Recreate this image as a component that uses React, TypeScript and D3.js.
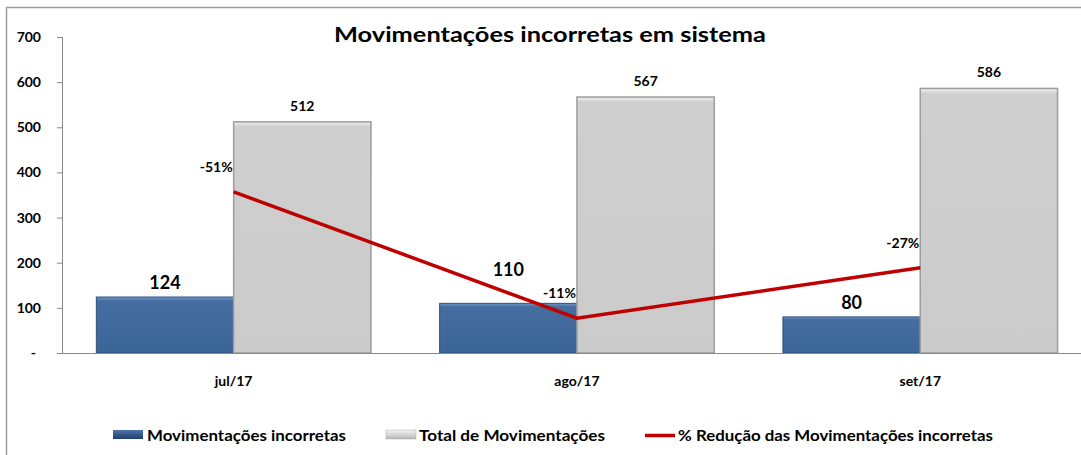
import React from 'react';
import * as d3 from 'd3';

// chart data
const categories = ['jul/17', 'ago/17', 'set/17'];
const incorretas = [124, 110, 80];
const totais = [512, 567, 586];
const reducao = [-0.51, -0.11, -0.27];
const yTicks = [0, 100, 200, 300, 400, 500, 600, 700];

const W = 1081;
const H = 455;
const margin = { top: 37, bottom: 353, left: 62 };
const font = 'Lato, "Open Sans", sans-serif';

export default function App() {
  const x = d3.scaleBand<string>()
    .domain(categories)
    .range([margin.left, margin.left + 3 * 343.3])
    .padding(0);
  const y = d3.scaleLinear().domain([0, 700]).range([margin.bottom, margin.top]);
  // secondary axis (hidden) for the % line, plotted by magnitude
  const y2 = d3.scaleLinear().domain([0, 1]).range([margin.bottom, margin.top]);

  const step = x.step();
  const barW = step * 0.4;
  const center = (c: string) => (x(c) as number) + step / 2;

  const pts = categories.map((c, i) => [center(c), y2(Math.abs(reducao[i]))] as [number, number]);
  const line = d3.line();

  // y of the % line at a given x (null outside its span)
  const lineYAt = (px: number) => {
    for (let i = 0; i < pts.length - 1; i++) {
      const [x0, y0] = pts[i];
      const [x1, y1] = pts[i + 1];
      if (px >= x0 && px <= x1) return y0 + ((px - x0) / (x1 - x0)) * (y1 - y0);
    }
    return null;
  };
  // bar label moved above the line when it would overlap it
  const blueLabelY = (cx: number, top: number) => {
    const base = top - 8;
    const ly = lineYAt(cx);
    if (ly !== null && ly > base - 18 && ly < base + 4) return ly - 17;
    return base;
  };

  return (
    <svg width={W} height={H} style={{ position: 'absolute', left: 0, top: 0, background: '#fff' }}>
      <defs>
        <linearGradient id="blueG" x1="0" y1="0" x2="0" y2="1">
          <stop offset="0" stopColor="#7099cc" />
          <stop offset="0.07" stopColor="#466d9f" />
          <stop offset="1" stopColor="#3c6597" />
        </linearGradient>
        <linearGradient id="grayG" x1="0" y1="0" x2="0" y2="1">
          <stop offset="0" stopColor="#f2f2f2" />
          <stop offset="0.02" stopColor="#cfcfcf" />
          <stop offset="1" stopColor="#cbcbcb" />
        </linearGradient>
        <linearGradient id="legBlue" x1="0" y1="0" x2="0" y2="1">
          <stop offset="0" stopColor="#4f74a8" />
          <stop offset="1" stopColor="#1f3f6e" />
        </linearGradient>
        <linearGradient id="legGray" x1="0" y1="0" x2="0" y2="1">
          <stop offset="0" stopColor="#f5f5f5" />
          <stop offset="1" stopColor="#b5b5b5" />
        </linearGradient>
      </defs>

      {/* outer border */}
      <line x1={6.5} y1={7} x2={6.5} y2={H} stroke="#9a9a9a" strokeWidth={1.5} />
      <line x1={6} y1={7.5} x2={W} y2={7.5} stroke="#9a9a9a" strokeWidth={1.5} />

      <text x={550} y={42} textAnchor="middle" fontFamily={font} fontWeight="bold" fontSize={21}
        textLength={432} lengthAdjust="spacingAndGlyphs" fill="#000">
        Movimentações incorretas em sistema
      </text>

      {/* y axis */}
      <g fontFamily={font} fontWeight="bold" fontSize={14}>
        <line x1={margin.left + 0.5} y1={y(700)} x2={margin.left + 0.5} y2={y(0)} stroke="#888" />
        {yTicks.map(t => (
          <g key={t}>
            <line x1={margin.left - 5} x2={margin.left} y1={y(t) + 0.5} y2={y(t) + 0.5} stroke="#888" />
            <text x={t === 0 ? 36 : 41} y={y(t) + 5} textAnchor="end" fill="#000">{t === 0 ? '-' : t}</text>
          </g>
        ))}
      </g>

      {/* bars */}
      {categories.map((c, i) => {
        const cx = center(c);
        const yb = y(incorretas[i]);
        const yg = y(totais[i]);
        return (
          <g key={c}>
            <rect x={cx - barW} y={yb} width={barW} height={y(0) - yb} fill="url(#blueG)" stroke="#2e5080" strokeWidth={1} />
            <rect x={cx} y={yg} width={barW} height={y(0) - yg} fill="url(#grayG)" stroke="#9d9d9d" strokeWidth={1.5} />
            <text x={cx - barW / 2} y={blueLabelY(cx - barW / 2, yb)} textAnchor="middle" fontFamily={font} fontWeight="bold" fontSize={18}>{incorretas[i]}</text>
            <text x={cx + barW / 2} y={yg - 11} textAnchor="middle" fontFamily={font} fontWeight="bold" fontSize={14}>{totais[i]}</text>
            <text x={cx} y={386} textAnchor="middle" fontFamily={font} fontWeight="bold" fontSize={14}>{c}</text>
          </g>
        );
      })}

      {/* x axis line */}
      <line x1={margin.left} x2={W} y1={y(0) + 0.5} y2={y(0) + 0.5} stroke="#888" />

      {/* % line */}
      <path d={line(pts) as string} fill="none" stroke="#c00000" strokeWidth={3.5} />
      {pts.map((p, i) => (
        <text key={i} x={p[0] - 1} y={p[1] - 20} textAnchor="end" fontFamily={font} fontWeight="bold" fontSize={14}>
          {Math.round(reducao[i] * 100) + '%'}
        </text>
      ))}

      {/* legend */}
      <g fontFamily={font} fontWeight="bold" fontSize={15}>
        <rect x={113} y={430} width={30} height={9} fill="url(#legBlue)" />
        <text x={147} y={441} textLength={199} lengthAdjust="spacingAndGlyphs">Movimentações incorretas</text>
        <rect x={386} y={430} width={30} height={9} fill="url(#legGray)" stroke="#aaa" strokeWidth={0.5} />
        <text x={419} y={441} textLength={186} lengthAdjust="spacingAndGlyphs">Total de Movimentações</text>
        <line x1={645} x2={675} y1={435.5} y2={435.5} stroke="#c00000" strokeWidth={3.5} />
        <text x={678} y={441} textLength={315} lengthAdjust="spacingAndGlyphs">% Redução das Movimentações incorretas</text>
      </g>
    </svg>
  );
}
